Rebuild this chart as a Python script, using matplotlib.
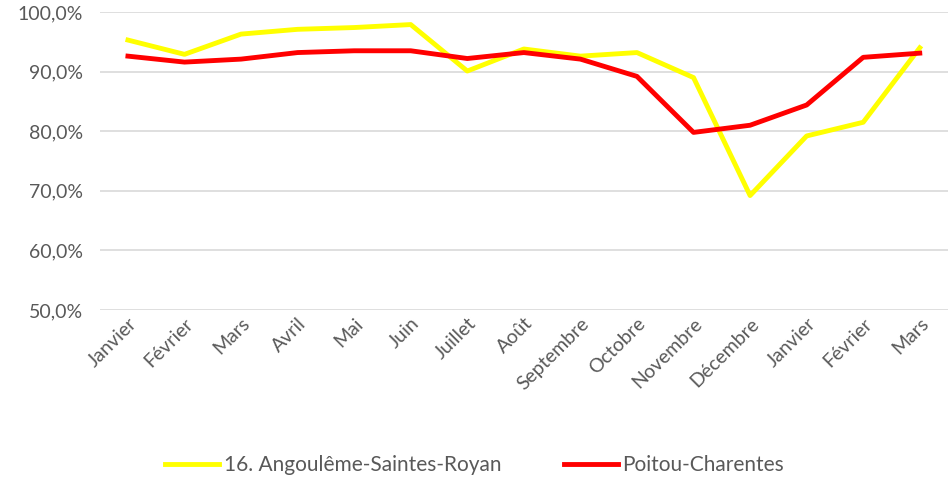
import matplotlib
matplotlib.use("Agg")
import matplotlib.pyplot as plt
from matplotlib.ticker import FuncFormatter

mois = ["Janvier", "Février", "Mars", "Avril", "Mai", "Juin", "Juillet", "Août",
        "Septembre", "Octobre", "Novembre", "Décembre", "Janvier", "Février", "Mars"]
angouleme = [95.3, 92.9, 96.3, 97.1, 97.4, 97.9, 90.1, 93.8,
             92.6, 93.2, 89.0, 69.2, 79.2, 81.5, 94.0]
poitou = [92.6, 91.6, 92.1, 93.2, 93.5, 93.5, 92.2, 93.2,
          92.1, 89.2, 79.8, 81.0, 84.4, 92.4, 93.1]

plt.rcParams['font.family'] = ['Lato', 'DejaVu Sans']

fig = plt.figure(figsize=(9.49, 4.82), dpi=100)
ax = fig.add_axes([0.105, 0.357, 0.894, 0.618])

x = range(len(mois))
ax.plot(x, angouleme, color='#FFFF00', lw=3.5, label="16. Angoulême-Saintes-Royan")
ax.plot(x, poitou, color='#FF0000', lw=3.5, label="Poitou-Charentes")

ax.set_ylim(50, 100)
ax.set_xlim(-0.5, len(mois) - 0.5)
ax.set_yticks(range(50, 101, 10))
ax.yaxis.set_major_formatter(FuncFormatter(lambda v, p: f"{v:.1f}%".replace('.', ',')))
ax.set_xticks(list(x))
ax.set_xticklabels(mois, rotation=45, ha='right', rotation_mode='anchor')
ax.tick_params(length=0, labelsize=14, colors='#595959')
ax.tick_params(axis='y', pad=12)
ax.grid(axis='y', color='#D9D9D9', lw=1.2)
ax.set_axisbelow(True)
for s in ax.spines.values():
    s.set_visible(False)

fig.legend(loc='lower center', bbox_to_anchor=(0.5, -0.025), ncol=2, frameon=False,
           fontsize=15, labelcolor='#595959', handlelength=2.6, columnspacing=3,
           handletextpad=0.2)

fig.savefig("out.png", dpi=100)
